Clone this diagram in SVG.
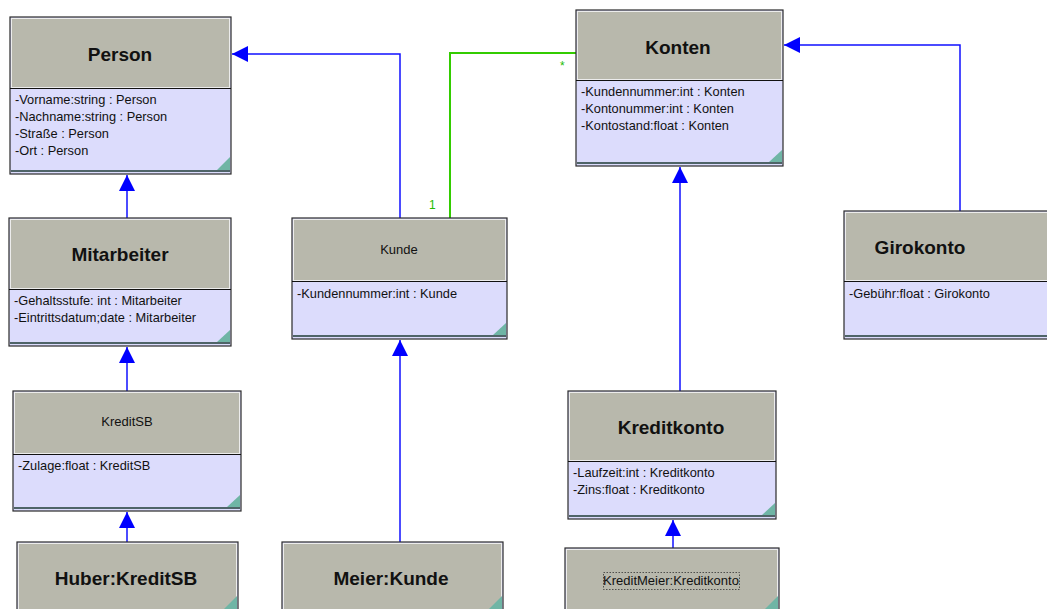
<svg xmlns="http://www.w3.org/2000/svg" width="1047" height="609" viewBox="0 0 1047 609">
<defs>
<style>
.box{fill:#dcdcfc;stroke:#2a2a2a;stroke-width:1.2}
.hdr{fill:#b8b8ac;stroke:#ececec;stroke-width:1}
.sep{stroke:#111;stroke-width:1.2}
.btm{stroke:#4f6468;stroke-width:2}
.crn{fill:#6fb5a5}
.t{font-family:"Liberation Sans",Arial,sans-serif;fill:#111}
.tb{font-size:19px;font-weight:bold;text-anchor:middle}
.tn{font-size:13px;text-anchor:middle}
.a{font-size:12.8px}
.gen{fill:none;stroke:#1010ff;stroke-width:1.5}
.asc{fill:none;stroke:#33cc00;stroke-width:2}
.lbl{font-family:"Liberation Sans",Arial,sans-serif;font-size:12px;fill:#22bb00}
</style>
<marker id="tri" viewBox="0 0 16 16" refX="16" refY="8" markerWidth="16" markerHeight="16" markerUnits="userSpaceOnUse" orient="auto">
<path d="M0,0 L16,8 L0,16 Z" fill="#0000ff"/>
</marker>
</defs>

<g id="connectors">
<path class="gen" d="M400,218 V54 H232" marker-end="url(#tri)"/>
<path class="asc" d="M450,218 V53 H576"/>
<text class="lbl" x="429" y="209">1</text>
<text class="lbl" x="560" y="70">*</text>
<path class="gen" d="M127,218 V175" marker-end="url(#tri)"/>
<path class="gen" d="M127,391 V347" marker-end="url(#tri)"/>
<path class="gen" d="M127,542 V512" marker-end="url(#tri)"/>
<path class="gen" d="M400,542 V340" marker-end="url(#tri)"/>
<path class="gen" d="M680,391 V167" marker-end="url(#tri)"/>
<path class="gen" d="M960,211 V45 H784" marker-end="url(#tri)"/>
<path class="gen" d="M673,548 V520" marker-end="url(#tri)"/>
</g>

<g id="Person">
<rect class="box" x="10" y="17" width="221" height="157"/>
<rect class="hdr" x="11.5" y="18.5" width="218" height="69"/>
<line class="sep" x1="10" y1="88.5" x2="231" y2="88.5"/>
<line class="btm" x1="11" y1="171" x2="230" y2="171"/>
<polygon class="crn" points="230,157 230,170 217,170"/>
<text class="t tb" x="120" y="61">Person</text>
<text class="t a" x="15" y="104">-Vorname:string : Person</text>
<text class="t a" x="15" y="121">-Nachname:string : Person</text>
<text class="t a" x="15" y="138">-Straße : Person</text>
<text class="t a" x="15" y="155">-Ort : Person</text>
</g>

<g id="Mitarbeiter">
<rect class="box" x="9" y="218" width="222" height="128"/>
<rect class="hdr" x="10.5" y="219.5" width="219" height="69"/>
<line class="sep" x1="9" y1="289.5" x2="231" y2="289.5"/>
<line class="btm" x1="10" y1="343" x2="230" y2="343"/>
<polygon class="crn" points="230,330 230,342 217,342"/>
<text class="t tb" x="120" y="261">Mitarbeiter</text>
<text class="t a" x="14" y="305">-Gehaltsstufe: int : Mitarbeiter</text>
<text class="t a" x="14" y="322">-Eintrittsdatum;date : Mitarbeiter</text>
</g>

<g id="KreditSB">
<rect class="box" x="13" y="391" width="228" height="120"/>
<rect class="hdr" x="14.5" y="392.5" width="225" height="61"/>
<line class="sep" x1="13" y1="454.5" x2="241" y2="454.5"/>
<line class="btm" x1="14" y1="508" x2="240" y2="508"/>
<polygon class="crn" points="240,495 240,507 227,507"/>
<text class="t tn" x="127" y="426">KreditSB</text>
<text class="t a" x="18" y="470">-Zulage:float : KreditSB</text>
</g>

<g id="HuberKreditSB">
<rect class="box" x="17" y="542" width="221" height="72"/>
<rect class="hdr" x="18.5" y="543.5" width="218" height="70"/>
<polygon class="crn" points="237,596 237,609 224,609"/>
<text class="t tb" x="126" y="585">Huber:KreditSB</text>
</g>

<g id="Kunde">
<rect class="box" x="292" y="218" width="215" height="121"/>
<rect class="hdr" x="293.5" y="219.5" width="212" height="61"/>
<line class="sep" x1="292" y1="281.5" x2="507" y2="281.5"/>
<line class="btm" x1="293" y1="336" x2="506" y2="336"/>
<polygon class="crn" points="506,323 506,335 493,335"/>
<text class="t tn" x="399" y="254">Kunde</text>
<text class="t a" x="297" y="298">-Kundennummer:int : Kunde</text>
</g>

<g id="MeierKunde">
<rect class="box" x="282" y="542" width="221" height="72"/>
<rect class="hdr" x="283.5" y="543.5" width="218" height="70"/>
<polygon class="crn" points="502,596 502,609 489,609"/>
<text class="t tb" x="391" y="585">Meier:Kunde</text>
</g>

<g id="Konten">
<rect class="box" x="576" y="10" width="207" height="156"/>
<rect class="hdr" x="577.5" y="11.5" width="204" height="68"/>
<line class="sep" x1="576" y1="80.5" x2="783" y2="80.5"/>
<line class="btm" x1="577" y1="163" x2="782" y2="163"/>
<polygon class="crn" points="782,150 782,162 769,162"/>
<text class="t tb" x="678" y="54">Konten</text>
<text class="t a" x="581" y="96">-Kundennummer:int : Konten</text>
<text class="t a" x="581" y="113">-Kontonummer:int : Konten</text>
<text class="t a" x="581" y="130">-Kontostand:float : Konten</text>
</g>

<g id="Girokonto">
<rect class="box" x="844" y="211" width="206" height="128"/>
<rect class="hdr" x="845.5" y="212.5" width="203" height="68"/>
<line class="sep" x1="844" y1="281.5" x2="1050" y2="281.5"/>
<line class="btm" x1="845" y1="336" x2="1050" y2="336"/>
<text class="t tb" x="920" y="254">Girokonto</text>
<text class="t a" x="849" y="298">-Gebühr:float : Girokonto</text>
</g>

<g id="Kreditkonto">
<rect class="box" x="568" y="391" width="208" height="128"/>
<rect class="hdr" x="569.5" y="392.5" width="205" height="68"/>
<line class="sep" x1="568" y1="461.5" x2="776" y2="461.5"/>
<line class="btm" x1="569" y1="516" x2="775" y2="516"/>
<polygon class="crn" points="775,503 775,515 762,515"/>
<text class="t tb" x="671" y="434">Kreditkonto</text>
<text class="t a" x="573" y="477">-Laufzeit:int : Kreditkonto</text>
<text class="t a" x="573" y="494">-Zins:float : Kreditkonto</text>
</g>

<g id="KreditMeierKreditkonto">
<rect class="box" x="565" y="548" width="214" height="66"/>
<rect class="hdr" x="566.5" y="549.5" width="211" height="64"/>
<polygon class="crn" points="778,596 778,609 765,609"/>
<rect x="603.5" y="572.5" width="136" height="17" fill="none" stroke="#333" stroke-width="0.8" stroke-dasharray="1.5,1.5"/>
<text class="t tn" x="671" y="585">KreditMeier:Kreditkonto</text>
</g>
</svg>
